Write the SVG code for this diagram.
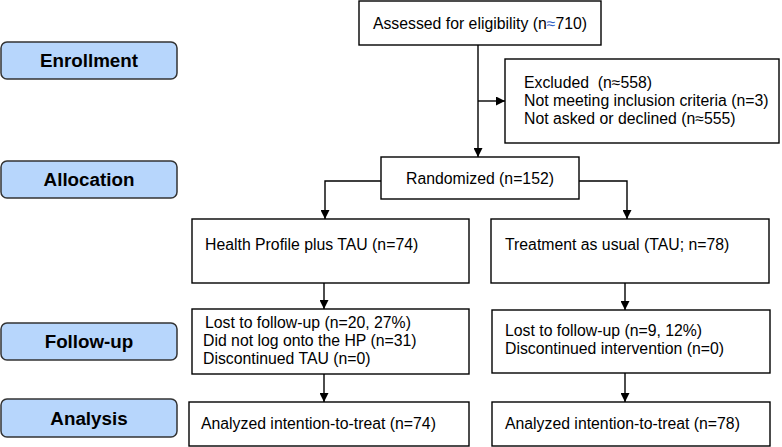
<svg xmlns="http://www.w3.org/2000/svg" width="782" height="447" viewBox="0 0 782 447">
<style>
.box{fill:#fff;stroke:#000;stroke-width:1.4}
.lab{fill:#b7d6fc;stroke:#333;stroke-width:1.5}
.t{font-family:"Liberation Sans",Arial,sans-serif;font-size:15.8px;fill:#000}
.lt{font-family:"Liberation Sans",Arial,sans-serif;font-size:18.8px;font-weight:bold;fill:#000;text-anchor:middle}
.c{fill:none;stroke:#000;stroke-width:1.4}
</style>
<defs>
<marker id="ah" viewBox="0 0 10 10" refX="10" refY="5" markerWidth="9" markerHeight="9" markerUnits="userSpaceOnUse" orient="auto">
<path d="M0,0 L10,5 L0,10 z" fill="#000"/>
</marker>
</defs>
<rect width="782" height="447" fill="#fff"/>
<g id="label-enrollment"><rect class="lab" x="1" y="42" width="176" height="37" rx="6"/><text class="lt" x="89" y="67">Enrollment</text></g>
<g id="label-allocation"><rect class="lab" x="1" y="161" width="176" height="37" rx="6"/><text class="lt" x="89" y="186">Allocation</text></g>
<g id="label-followup"><rect class="lab" x="1" y="323" width="176" height="37" rx="6"/><text class="lt" x="89" y="348">Follow-up</text></g>
<g id="label-analysis"><rect class="lab" x="1" y="399" width="176" height="38" rx="6"/><text class="lt" x="89" y="425">Analysis</text></g>

<g id="assessed"><rect class="box" x="359" y="1" width="242" height="44"/><text class="t" x="480" y="29" text-anchor="middle">Assessed for eligibility (n<tspan fill="#2f5fc4">≈</tspan>710)</text></g>
<g id="excluded"><rect class="box" x="505" y="59" width="274" height="84"/>
<text class="t" x="524" y="88" style="white-space:pre">Excluded  (n≈558)</text>
<text class="t" x="524" y="106">Not meeting inclusion criteria (n=3)</text>
<text class="t" x="524" y="124">Not asked or declined (n≈555)</text></g>
<g id="randomized"><rect class="box" x="381" y="157" width="198" height="42"/><text class="t" x="480" y="184" text-anchor="middle">Randomized (n=152)</text></g>
<g id="hp"><rect class="box" x="192" y="219" width="277" height="64"/><text class="t" x="205" y="250">Health Profile plus TAU (n=74)</text></g>
<g id="tau"><rect class="box" x="491" y="219" width="278" height="64"/><text class="t" x="505" y="250">Treatment as usual (TAU; n=78)</text></g>
<g id="lost-hp"><rect class="box" x="192" y="309" width="277" height="65"/>
<text class="t" x="205" y="328">Lost to follow-up (n=20, 27%)</text>
<text class="t" x="203" y="346">Did not log onto the HP (n=31)</text>
<text class="t" x="203" y="364">Discontinued TAU (n=0)</text></g>
<g id="lost-tau"><rect class="box" x="492" y="310" width="278" height="63"/>
<text class="t" x="505" y="336">Lost to follow-up (n=9, 12%)</text>
<text class="t" x="505" y="354">Discontinued intervention (n=0)</text></g>
<g id="analysis-hp"><rect class="box" x="189" y="402" width="280" height="44"/><text class="t" x="201" y="429">Analyzed intention-to-treat (n=74)</text></g>
<g id="analysis-tau"><rect class="box" x="492" y="402" width="278" height="44"/><text class="t" x="505" y="429">Analyzed intention-to-treat (n=78)</text></g>

<g id="connectors">
<path class="c" d="M478,45 V157" marker-end="url(#ah)"/>
<path class="c" d="M478,101 H505" marker-end="url(#ah)"/>
<path class="c" d="M381,181 H325 V219" marker-end="url(#ah)"/>
<path class="c" d="M579,181 H627 V219" marker-end="url(#ah)"/>
<path class="c" d="M324,283 V309" marker-end="url(#ah)"/>
<path class="c" d="M625,283 V310" marker-end="url(#ah)"/>
<path class="c" d="M324,374 V402" marker-end="url(#ah)"/>
<path class="c" d="M625,373 V402" marker-end="url(#ah)"/>
</g>
</svg>
